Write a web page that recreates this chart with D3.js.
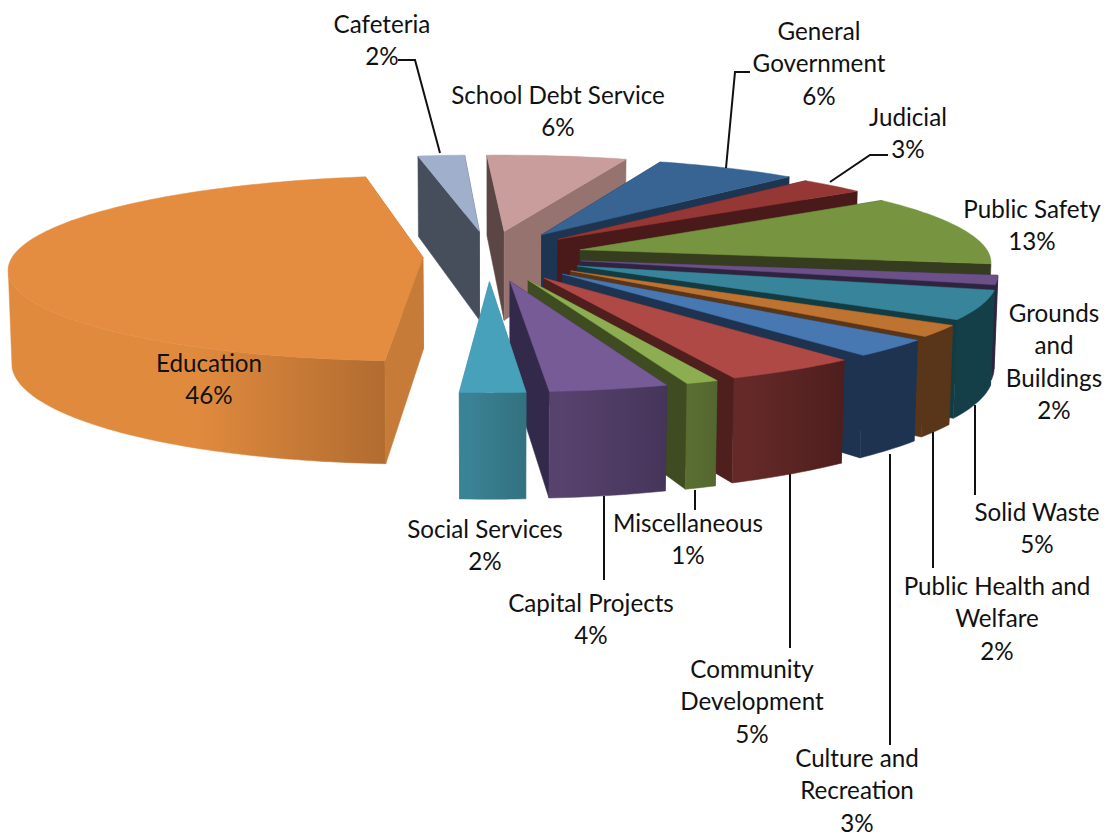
<!DOCTYPE html>
<html lang="en">

<head>
  <meta charset="UTF-8">
  <script src="https://d3js.org/d3.v7.min.js"></script>
  <style>
    html, body { margin: 0; padding: 0; background: #fff; }
    text { font-family: Lato, "Open Sans", sans-serif; font-size: 24.2px; fill: #111; text-anchor: middle; }
  </style>
</head>

<body>

  <script>
    // values, clockwise from the General Government slice (estimated, they round to the printed labels)
    const categories = ['General Government', 'Judicial', 'Public Safety', 'Grounds and Buildings', 'Solid Waste',
      'Public Health and Welfare', 'Culture and Recreation', 'Community Development', 'Miscellaneous',
      'Capital Projects', 'Social Services', 'Education', 'Cafeteria', 'School Debt Service'];
    const percents = [6.4, 3, 12.5, 1.6, 5, 2, 3, 4.6, 1.1, 4, 2.2, 46.2, 2.1, 6.3];

    // colours per slice
    const topColors = ['#376492', '#953735', '#779440', '#6B5089', '#38859B', '#BE7331', '#4878B2',
      '#AE4946', '#8DAE50', '#775B96', '#48A1BA', '#E48C40', '#A0AFCB', '#C89D9B'];
    const startFace = ['#1E3552', '#4A1919', '#363C1E', '#2F2440', '#123C42', '#59351A', '#1E3350',
      '#4F1F1E', '#3F4C21', '#33294A', '#3A8396', '#C67C38', '#464E5C', '#5C4645'];
    const endFace = ['#1E3552', '#4A1919', '#363C1E', '#2F2440', '#123C42', '#59351A', '#1E3350',
      '#4F1F1E', '#3F4C21', '#33294A', '#3A8396', '#C67C38', '#464E5C', '#977370'];
    const wallLight = ['#1E3552', '#4A1919', '#363C1E', '#2F2440', '#153F48', '#59351A', '#1E3350',
      '#652A28', '#5A6E31', '#57426E', '#3A8396', '#E08A3E', '#464E5C', '#977370'];
    const wallDark = ['#1E3552', '#4A1919', '#363C1E', '#2F2440', '#153F48', '#59351A', '#1E3350',
      '#4E1E1E', '#546630', '#46355A', '#33717F', '#B16C30', '#464E5C', '#977370'];

    // sideways nudge of each exploded slice
    const sliceShift = [2, 0, 3, 2, 3, 5, 5, 2, 0, -5, -9, 7, -10, -6];

    // label text and where it sits
    const labelLines = [['General', 'Government'], ['Judicial'], ['Public Safety'], ['Grounds', 'and', 'Buildings'],
      ['Solid Waste'], ['Public Health and', 'Welfare'], ['Culture and', 'Recreation'], ['Community', 'Development'],
      ['Miscellaneous'], ['Capital Projects'], ['Social Services'], ['Education'], ['Cafeteria'], ['School Debt Service']];
    const labelX = [819, 908, 1032, 1054, 1037, 997, 857, 752, 688, 591, 485, 209, 382, 558];
    const labelY = [31, 117, 209, 313, 512, 586, 758, 669, 523, 603, 529, 363, 24, 95];
    const leaders = [
      [[750, 72], [735, 72], [726, 168]],
      [[888, 155], [870, 155], [830, 182]],
      [[975, 495], [975, 405]],
      [[933, 568], [933, 432]],
      [[890, 745], [890, 454]],
      [[790, 648], [790, 474]],
      [[695, 510], [695, 490]],
      [[604, 580], [604, 496]],
      [[398, 60], [415, 60], [440, 153]]
    ];

    const width = 1111;
    const height = 837;

    // camera for the tilted pie
    const radius = 410;
    const radiusDepth = 0.923;
    const explodeX = 82;
    const explodeZ = 105;
    const thickness = 95;
    const tilt = 13.9 * Math.PI / 180;
    const camDist = 3090;
    const cx = 498;
    const cy = 255.7;
    const firstAngle = 20 * Math.PI / 180;

    function project(x, y, z) {
      const depth = camDist - z * Math.cos(tilt) - y * Math.sin(tilt);
      const s = camDist / depth;
      return [cx + x * s, cy - (y * Math.cos(tilt) - z * Math.sin(tilt)) * s];
    }

    const svg = d3.select("body")
      .append("svg")
      .attr("width", width)
      .attr("height", height)
      .style("display", "block");

    const defs = svg.append("defs");

    const pie = d3.pie()
      .sort(null)
      .startAngle(firstAngle)
      .endAngle(firstAngle + 2 * Math.PI);

    const arcs = pie(percents).map((d, i) => {
      const mid = (d.startAngle + d.endAngle) / 2;
      return {
        i,
        start: d.startAngle,
        end: d.endAngle,
        ox: explodeX * Math.sin(mid) + sliceShift[i],
        oz: -explodeZ * Math.cos(mid)
      };
    });

    const line = d3.line();

    // world point of a slice at radius r and angle a
    function pt(d, r, a, y) {
      return project(d.ox + r * Math.sin(a), y, d.oz - r * radiusDepth * Math.cos(a));
    }

    function rimAngles(d) {
      const n = Math.max(4, Math.ceil((d.end - d.start) / 0.02));
      return d3.range(n + 1).map(k => d.start + (d.end - d.start) * k / n);
    }

    // only the part of the round wall that looks towards the camera
    function wallFacing(d, a) {
      const px = d.ox + radius * Math.sin(a);
      const pz = d.oz - radius * radiusDepth * Math.cos(a);
      return Math.sin(a) * (-px) - Math.cos(a) * (camDist * Math.cos(tilt) - pz) > 0;
    }

    // paint from the back of the pie to the front
    const ordered = arcs.slice().sort((a, b) => a.oz - b.oz);

    ordered.forEach(d => {
      const g = svg.append("g");
      const rim = rimAngles(d);
      const top = rim.map(a => pt(d, radius, a, 0));
      const seen = rim.filter(a => wallFacing(d, a));
      const wallTop = seen.map(a => pt(d, radius, a, 0));
      const wallBottom = seen.map(a => pt(d, radius, a, -thickness));

      const gradId = "wall" + d.i;
      const grad = defs.append("linearGradient")
        .attr("id", gradId)
        .attr("gradientUnits", "userSpaceOnUse")
        .attr("x1", d3.min(top, p => p[0]))
        .attr("x2", d3.max(top, p => p[0]))
        .attr("y1", 0)
        .attr("y2", 0);
      grad.append("stop").attr("offset", 0).attr("stop-color", wallLight[d.i]);
      grad.append("stop").attr("offset", d.i === 11 ? 0.5 : 0.1).attr("stop-color", wallLight[d.i]);
      grad.append("stop").attr("offset", 1).attr("stop-color", wallDark[d.i]);

      const parts = [
        { angle: d.start, fill: startFace[d.i] },
        { angle: d.end, fill: endFace[d.i] }
      ].map(f => ({
        fill: f.fill,
        pts: [pt(d, 0, f.angle, 0), pt(d, radius, f.angle, 0), pt(d, radius, f.angle, -thickness), pt(d, 0, f.angle, -thickness)],
        z: d.oz - radius * 0.5 * Math.cos(f.angle)
      }));

      if (seen.length > 1) {
        parts.push({
          fill: `url(#${gradId})`,
          pts: wallTop.concat(wallBottom.slice().reverse()),
          z: d.oz - radius * Math.cos((d.start + d.end) / 2)
        });
      }
      parts.sort((a, b) => a.z - b.z);

      parts.forEach(p => {
        g.append("path")
          .attr("d", line(p.pts) + "Z")
          .attr("fill", p.fill)
          .attr("stroke", p.fill)
          .attr("stroke-width", 0.5);
      });

      g.append("path")
        .attr("d", line([pt(d, 0, d.start, 0)].concat(top)) + "Z")
        .attr("fill", topColors[d.i])
        .attr("stroke", topColors[d.i])
        .attr("stroke-width", 0.5);
    });

    // leader lines
    svg.selectAll(".leader")
      .data(leaders)
      .enter()
      .append("path")
      .attr("class", "leader")
      .attr("d", d => line(d))
      .attr("fill", "none")
      .attr("stroke", "#111")
      .attr("stroke-width", 2);

    // labels
    categories.forEach((c, i) => {
      const lines = labelLines[i].concat([Math.round(percents[i]) + "%"]);
      svg.append("text")
        .selectAll("tspan")
        .data(lines)
        .enter()
        .append("tspan")
        .attr("x", labelX[i])
        .attr("y", (d, k) => labelY[i] + 8.5 + k * 32.6)
        .text(d => d);
    });
  </script>
</body>

</html>
